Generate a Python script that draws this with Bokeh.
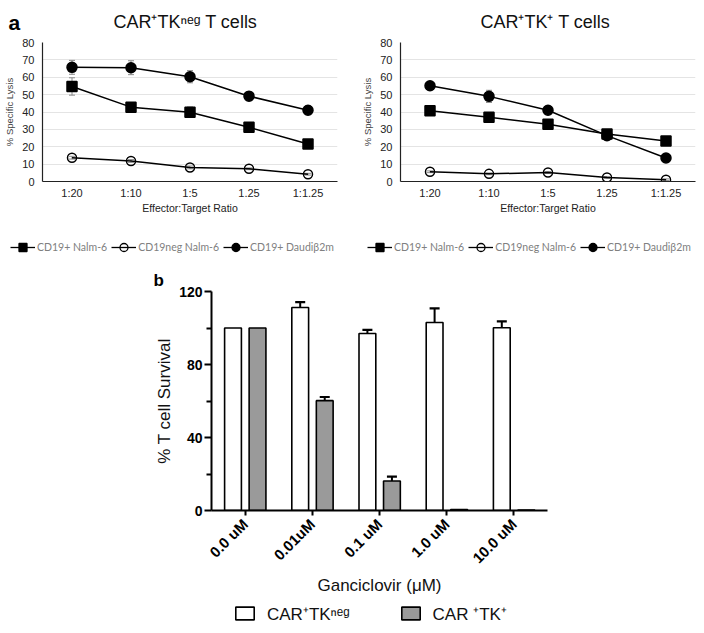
from math import pi
from bokeh.plotting import figure
from bokeh.layouts import row
from bokeh.models import (ColumnDataSource, FactorRange, Range1d, Whisker, TeeHead,
                          Legend, LegendItem, FixedTicker, Title)
from bokeh.transform import dodge
from bokeh.core.properties import value
from bokeh.embed import file_html
from bokeh.resources import INLINE

# ---------------- data ----------------
ratios = ["1:20", "1:10", "1:5", "1.25", "1:1.25"]
series_names = ["CD19+ Nalm-6", "CD19neg Nalm-6", "CD19+ Daudiβ2m"]
panel_titles = ["CAR⁺TKⁿᵉᵍ T cells", "CAR⁺TK⁺ T cells"]

tkneg_nalm = [54.7, 42.8, 39.9, 31.2, 21.6]
tkneg_nalm_err = [5.0, 1.0, 3.0, 1.0, 1.0]
tkneg_neg = [13.7, 11.8, 8.1, 7.3, 4.2]
tkneg_neg_err = [0.8, 0.8, 0.8, 0.5, 0.5]
tkneg_daudi = [65.7, 65.5, 60.3, 49.1, 41.0]
tkneg_daudi_err = [4.0, 4.0, 3.5, 2.5, 2.5]

tkpos_nalm = [40.7, 37.0, 33.0, 27.4, 23.3]
tkpos_nalm_err = [1.0, 1.0, 2.0, 2.0, 2.5]
tkpos_neg = [5.6, 4.4, 5.2, 2.3, 1.0]
tkpos_neg_err = [0.5, 0.5, 0.5, 0.5, 0.5]
tkpos_daudi = [55.1, 49.0, 41.0, 26.4, 13.5]
tkpos_daudi_err = [1.5, 3.5, 1.0, 2.0, 1.0]

gcv = ["0.0 uM", "0.01uM", "0.1 uM", "1.0 uM", "10.0 uM"]
bar_series = ["CAR⁺TKⁿᵉᵍ", "CAR ⁺TK⁺"]
surv_tkneg = [100.0, 111.2, 97.0, 103.0, 100.1]
surv_tkneg_err = [0.0, 3.0, 2.0, 7.8, 3.5]
surv_tkpos = [100.0, 60.2, 16.2, 0.5, 0.3]
surv_tkpos_err = [0.0, 2.0, 2.4, 0.0, 0.0]

ARIAL = "Liberation Sans"
MARKERS = [("square", "black", 10), ("circle", None, 9), ("circle", "black", 10)]
NAN = float("nan")


def blank(width, height):
    """A figure whose frame is the whole canvas (for free texts and legends)."""
    f = figure(width=width, height=height, x_range=Range1d(0, width),
               y_range=Range1d(0, height), output_backend="svg", toolbar_location=None,
               x_axis_location=None, y_axis_location=None,
               min_border_left=0, min_border_right=0, min_border_top=0,
               min_border_bottom=0)
    f.grid.visible = False
    f.outline_line_color = None
    return f


# ---------------- header: panel letter + titles ----------------
hdr = blank(704, 36)
hdr.text(x=[8], y=[14.5], text=["a"], text_font=value(ARIAL), text_font_style="bold",
         text_font_size="21px", text_align="left", text_baseline="alphabetic",
         text_color="black")
hdr.text(x=[185, 545], y=[14.3, 14.3], text=panel_titles, text_font=value(ARIAL),
         text_font_size="18px", text_align="center", text_baseline="alphabetic",
         text_color="#111111")


def line_fig(series, b_left, b_right):
    p = figure(width=352, height=190, x_range=FactorRange(*ratios), y_range=Range1d(0, 80),
               output_backend="svg", toolbar_location=None,
               min_border_left=b_left, min_border_right=b_right,
               min_border_top=6, min_border_bottom=45)
    p.outline_line_color = None
    p.xgrid.grid_line_color = None
    p.ygrid.grid_line_color = "#e4e4e4"
    p.yaxis.ticker = FixedTicker(ticks=list(range(0, 81, 10)))
    for ax in (p.xaxis, p.yaxis):
        ax.axis_line_color = "#222222"
        ax.axis_line_width = 1.2
        ax.major_tick_line_color = None
        ax.minor_tick_line_color = None
        ax.major_tick_out = 0
        ax.major_tick_in = 0
        ax.minor_tick_out = 0
        ax.minor_tick_in = 0
        ax.major_label_text_font = ARIAL
        ax.major_label_text_font_size = "11px"
        ax.major_label_text_color = "#222222"
        ax.axis_label_text_font = ARIAL
        ax.axis_label_text_font_style = "normal"
        ax.axis_label_text_color = "#222222"
    p.yaxis.axis_label = "% Specific Lysis"
    p.yaxis.axis_label_text_font_size = "9.5px"
    p.yaxis.axis_label_text_color = "#444444"
    p.yaxis.major_label_standoff = 8
    p.yaxis.axis_label_standoff = 4
    p.xaxis.axis_label = "Effector:Target Ratio"
    p.xaxis.axis_label_text_font_size = "10.5px"
    p.xaxis.major_label_standoff = 5
    p.xaxis.axis_label_standoff = 0

    for (vals, errs), (mk, fill, sz) in zip(series, MARKERS):
        src = ColumnDataSource(dict(x=ratios, y=vals,
                                    lo=[v - e for v, e in zip(vals, errs)],
                                    hi=[v + e for v, e in zip(vals, errs)]))
        p.add_layout(Whisker(base="x", upper="hi", lower="lo", source=src, level="underlay",
                             line_color="#8a8a8a", line_width=1,
                             upper_head=TeeHead(size=6, line_color="#8a8a8a", line_width=1),
                             lower_head=TeeHead(size=6, line_color="#8a8a8a", line_width=1)))
        p.line("x", "y", source=src, line_color="black", line_width=1.5)
        p.scatter("x", "y", source=src, marker=mk, size=sz,
                  fill_color=fill, line_color="black", line_width=1.5)
    return p


p1 = line_fig([(tkneg_nalm, tkneg_nalm_err), (tkneg_neg, tkneg_neg_err),
               (tkneg_daudi, tkneg_daudi_err)], 42, 15)
p2 = line_fig([(tkpos_nalm, tkpos_nalm_err), (tkpos_neg, tkpos_neg_err),
               (tkpos_daudi, tkpos_daudi_err)], 48, 9)

# ---------------- legends of panel a (legend-only proxies) ----------------
legfig = blank(704, 43)
proxy = []
for name, (mk, fill, sz) in zip(series_names, MARKERS):
    lr = legfig.line(x=[NAN], y=[NAN], line_color="black", line_width=1.3)
    mr = legfig.scatter(x=[NAN], y=[NAN], marker=mk, size=sz - 2, fill_color=fill,
                        line_color="black", line_width=1.3)
    proxy.append((name, [lr, mr]))
for lx in (10, 367):
    legfig.add_layout(Legend(items=[LegendItem(label=n, renderers=r) for n, r in proxy],
                             orientation="horizontal", location=(lx, 12),
                             glyph_width=25, glyph_height=20, label_standoff=2, spacing=4,
                             padding=0, margin=0, border_line_color=None,
                             background_fill_alpha=0, label_text_font="Lato",
                             label_text_font_size="10.5px", label_text_color="#808080"))

# ---------------- bar chart ----------------
p3 = figure(width=704, height=331, x_range=FactorRange(*gcv), y_range=Range1d(0, 120),
            output_backend="svg", toolbar_location=None,
            min_border_left=211, min_border_right=157, min_border_top=22,
            min_border_bottom=90)
p3.outline_line_color = None
p3.grid.grid_line_color = None
p3.add_layout(Title(text="b", align="left", offset=-58, standoff=0, vertical_align="top",
                    text_font=ARIAL, text_font_style="bold", text_font_size="17px",
                    text_color="black"), "above")

bsrc = ColumnDataSource(dict(x=gcv, neg=surv_tkneg, pos=surv_tkpos))
p3.vbar(x=dodge("x", -0.18, range=p3.x_range), top="neg", width=0.25, source=bsrc,
        fill_color="white", line_color="black", line_width=1.6)
p3.vbar(x=dodge("x", 0.185, range=p3.x_range), top="pos", width=0.25, source=bsrc,
        fill_color="#9a9a9a", line_color="black", line_width=1.6)

for vals, errs, off in ((surv_tkneg, surv_tkneg_err, -0.18), (surv_tkpos, surv_tkpos_err, 0.185)):
    idx = [i for i, e in enumerate(errs) if e > 0]
    esrc = ColumnDataSource(dict(x=[gcv[i] for i in idx], lo=[vals[i] for i in idx],
                                 hi=[vals[i] + errs[i] for i in idx]))
    p3.add_layout(Whisker(base=dodge("x", off, range=p3.x_range), upper="hi", lower="lo",
                          source=esrc, line_color="black", line_width=2,
                          upper_head=TeeHead(size=10, line_color="black", line_width=2.2),
                          lower_head=None))

p3.yaxis.ticker = FixedTicker(ticks=[0, 40, 80, 120], minor_ticks=[20, 60, 100])
for ax in (p3.xaxis, p3.yaxis):
    ax.axis_line_width = 2
    ax.axis_line_color = "black"
    ax.major_tick_line_width = 2
    ax.major_tick_in = 0
    ax.major_label_text_font = ARIAL
    ax.major_label_text_font_style = "bold"
    ax.major_label_text_font_size = "14px"
    ax.major_label_text_color = "black"
    ax.axis_label_text_font = ARIAL
    ax.axis_label_text_font_style = "normal"
    ax.axis_label_text_font_size = "17px"
    ax.axis_label_text_color = "#111111"
p3.xaxis.major_label_text_font_size = "15px"
p3.xaxis.minor_tick_line_color = None
p3.yaxis.major_tick_out = 7
p3.yaxis.minor_tick_out = 5
p3.yaxis.minor_tick_in = 0
p3.yaxis.minor_tick_line_width = 2
p3.yaxis.major_label_standoff = 2
p3.yaxis.axis_label = "% T cell Survival"
p3.yaxis.axis_label_standoff = 2
p3.xaxis.major_tick_out = 5
p3.xaxis.major_label_orientation = pi / 4
p3.xaxis.major_label_standoff = 6
p3.xaxis.axis_label = "Ganciclovir (μM)"
p3.xaxis.axis_label_standoff = 1

# ---------------- legend of panel b (legend-only proxies) ----------------
barleg = blank(704, 31)
bn = barleg.vbar(x=[NAN], top=[NAN], width=1, fill_color="white", line_color="black",
                 line_width=1.6)
bp = barleg.vbar(x=[NAN], top=[NAN], width=1, fill_color="#9a9a9a", line_color="black",
                 line_width=1.6)
barleg.add_layout(Legend(items=[LegendItem(label=bar_series[0], renderers=[bn]),
                                LegendItem(label=bar_series[1], renderers=[bp])],
                         orientation="horizontal", location=(233, 6.5),
                         glyph_width=23, glyph_height=16, label_standoff=11, spacing=49,
                         padding=0, margin=0, border_line_color=None,
                         background_fill_alpha=0, label_text_font=ARIAL,
                         label_text_font_size="17px", label_text_color="#111111"))

roots = [hdr, row(p1, p2), legfig, p3, barleg]
open("out.html", "w").write(file_html(roots, INLINE))
